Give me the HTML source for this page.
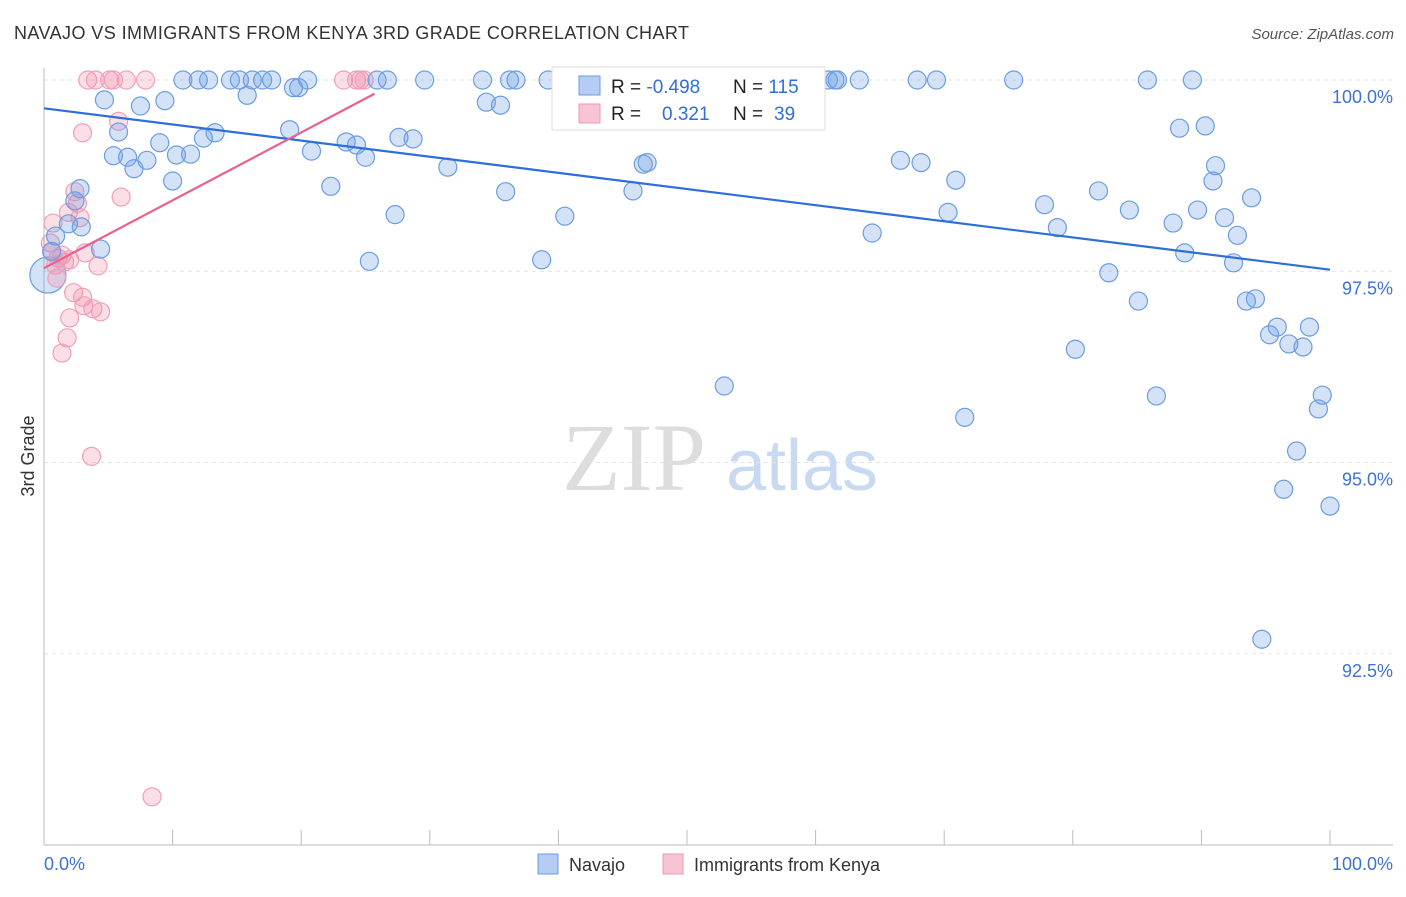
<!DOCTYPE html>
<html><head><meta charset="utf-8"><style>
body{margin:0;background:#fff;font-family:"Liberation Sans",sans-serif}
</style></head><body>
<svg width="1406" height="892" xmlns="http://www.w3.org/2000/svg" id="chart">
<text x="14" y="39" font-size="18" fill="#333" textLength="675" lengthAdjust="spacing">NAVAJO VS IMMIGRANTS FROM KENYA 3RD GRADE CORRELATION CHART</text>
<text x="1394" y="39" font-size="15" fill="#555" font-style="italic" text-anchor="end">Source: ZipAtlas.com</text>
<text x="34" y="456" font-size="18" fill="#333" text-anchor="middle" transform="rotate(-90 34 456)">3rd Grade</text>
<g><text x="634" y="490" font-size="96" fill="#ddd" font-family="Liberation Serif,serif" text-anchor="middle">ZIP</text><text x="802" y="490" font-size="72" fill="#c9d9f2" text-anchor="middle">atlas</text></g>
<g id="grid"></g><g id="axes"></g><g id="pts"></g><g id="lines"></g>
<g>
<rect x="552" y="67" width="273" height="63" fill="#fff" stroke="#ddd"/>
<rect x="579" y="76" width="21" height="19" fill="#b5cdf2" stroke="#6a9be0"/>
<rect x="579" y="104" width="21" height="19" fill="#f8c3d2" stroke="#ef9ab4"/>
<text x="611" y="93" font-size="19" fill="#222">R = <tspan fill="#2f6fd6">-0.498</tspan></text>
<text x="733" y="93" font-size="19" fill="#222">N = <tspan fill="#2f6fd6">115</tspan></text>
<text x="611" y="120" font-size="19" fill="#222">R = </text><text x="662" y="120" font-size="19" fill="#2f6fd6">0.321</text>
<text x="733" y="120" font-size="19" fill="#222">N = </text><text x="774" y="120" font-size="19" fill="#2f6fd6">39</text>
</g>
<g>
<rect x="538" y="854" width="20" height="20" fill="#b5cdf2" stroke="#6a9be0"/>
<text x="569" y="871" font-size="18" fill="#333">Navajo</text>
<rect x="663" y="854" width="20" height="20" fill="#f8c3d2" stroke="#ef9ab4"/>
<text x="694" y="871" font-size="18" fill="#333">Immigrants from Kenya</text>
</g>
</svg>
<script>
const yTicks=[100,97.5,95,92.5];
const yTickLabels=["100.0%","97.5%","95.0%","92.5%"];
const xTickLabels=["0.0%","100.0%"];
const navajoX=[10.8,12.0,12.8,14.5,15.2,16.2,17.0,17.7,20.5,25.9,26.7,29.6,34.1,36.2,36.7,39.2,47.9,54.7,61.0,61.5,61.7,63.4,67.9,69.4,75.4,85.8,89.3,
4.7,7.5,9.4,15.8,19.4,19.8,34.4,35.5,5.8,2.8,2.4,1.9,2.9,4.4,0.9,0.6,5.4,6.5,7.0,8.0,9.0,10.0,10.3,11.4,12.4,13.3,19.1,20.8,22.3,23.5,24.3,25.0,25.3,27.3,27.6,28.7,31.4,35.9,38.7,40.5,45.8,46.6,46.9,52.9,56.5,64.4,66.6,68.2,70.3,70.9,71.6,77.8,78.8,80.2,82.0,82.8,84.4,85.1,86.5,87.8,88.3,88.7,89.7,90.3,90.9,91.1,91.8,92.5,92.8,93.5,93.9,94.2,95.3,95.9,96.8,97.4,97.9,98.4,99.1,99.4,100.0,94.7,96.4];
const navajoY=[100,100,100,100,100,100,100,100,100,100,100,100,100,100,100,100,100,100,100,100,100,100,100,100,100,100,100,
99.74,99.66,99.73,99.80,99.90,99.90,99.71,99.67,99.32,98.58,98.42,98.12,98.08,97.79,97.96,97.76,99.01,98.99,98.84,98.95,99.18,98.68,99.02,99.03,99.24,99.31,99.35,99.07,98.61,99.19,99.15,98.99,97.63,98.24,99.25,99.23,98.86,98.54,97.65,98.22,98.55,98.90,98.92,96.00,99.61,98.00,98.95,98.92,98.27,98.69,95.59,98.37,98.07,96.48,98.55,97.48,98.30,97.11,95.87,98.13,99.37,97.74,98.30,99.40,98.68,98.88,98.20,97.61,97.97,97.11,98.46,97.14,96.67,96.77,96.55,95.15,96.51,96.77,95.70,95.88,94.43,92.69,94.65];
const bigX=[0.3], bigY=[97.45];
const kenyaX=[3.4,4.0,5.1,5.4,6.4,7.9,23.3,24.3,24.6,24.9,3.0,5.8,6.0,2.4,2.6,1.9,2.8,0.7,0.5,0.6,1.1,1.4,1.6,0.9,2.0,3.2,4.2,1.0,2.3,3.0,3.1,3.8,4.4,2.0,1.8,1.4,3.7,8.4];
const kenyaY=[100,100,100,100,100,100,100,100,100,100,99.31,99.46,98.47,98.54,98.39,98.27,98.20,98.13,97.87,97.75,97.67,97.71,97.62,97.58,97.65,97.74,97.57,97.41,97.22,97.16,97.05,97.01,96.97,96.89,96.63,96.43,95.08,90.63];
const navajoTrend=[[0,99.63],[100,97.52]];
const kenyaTrend=[[0,97.54],[25.7,99.82]];
const sx=v=>44+v*12.86, sy=v=>80+(100-v)*76.5;
const NS="http://www.w3.org/2000/svg";
function mk(t,a,p){const e=document.createElementNS(NS,t);for(const k in a)e.setAttribute(k,a[k]);document.getElementById(p).appendChild(e);return e;}
yTicks.forEach((t,i)=>{
 const l=mk('line',{x1:44,x2:1393,y1:sy(t),y2:sy(t),stroke:'#e2e2e2','stroke-dasharray':'4 4'},'grid');
 
 
 const tx=mk('text',{x:1393,y:sy(t)+23,'font-size':18,fill:'#3d72d6','text-anchor':'end'},'grid');
 tx.textContent=yTickLabels[i];
 
 
});
let a=mk('line',{x1:44,x2:44,y1:68,y2:845,stroke:'#bbb'},'axes');


a=mk('line',{x1:44,x2:1393,y1:845,y2:845,stroke:'#bbb'},'axes');


for(let i=0;i<=10;i++){const t=mk('line',{x1:sx(i*10),x2:sx(i*10),y1:830,y2:845,stroke:'#bbb'},'axes');
 
 }
[[0,'start'],[100,'end']].forEach((p,i)=>{const t=mk('text',{x:i?1393:44,y:870,'font-size':18,fill:'#3d72d6','text-anchor':p[1]},'axes');t.textContent=xTickLabels[i];
 
 });
bigX.forEach((x,i)=>{const c=mk('circle',{cx:sx(x),cy:sy(bigY[i]),r:18,fill:'rgba(110,160,230,0.3)',stroke:'#6c9de2','stroke-width':1.2},'pts');
 
 });
kenyaX.forEach((x,i)=>{const c=mk('circle',{cx:sx(x),cy:sy(kenyaY[i]),r:9,fill:'rgba(240,140,170,0.28)',stroke:'#efa0b8','stroke-width':1.2},'pts');
 
 });
navajoX.forEach((x,i)=>{const c=mk('circle',{cx:sx(x),cy:sy(navajoY[i]),r:9,fill:'rgba(110,160,230,0.3)',stroke:'#6c9de2','stroke-width':1.2},'pts');
 
 });
let L=mk('line',{x1:sx(navajoTrend[0][0]),y1:sy(navajoTrend[0][1]),x2:sx(navajoTrend[1][0]),y2:sy(navajoTrend[1][1]),stroke:'#2d6fd8','stroke-width':2.2},'lines');


L=mk('line',{x1:sx(kenyaTrend[0][0]),y1:sy(kenyaTrend[0][1]),x2:sx(kenyaTrend[1][0]),y2:sy(kenyaTrend[1][1]),stroke:'#e8628e','stroke-width':2.2},'lines');


</script>
</body></html>
